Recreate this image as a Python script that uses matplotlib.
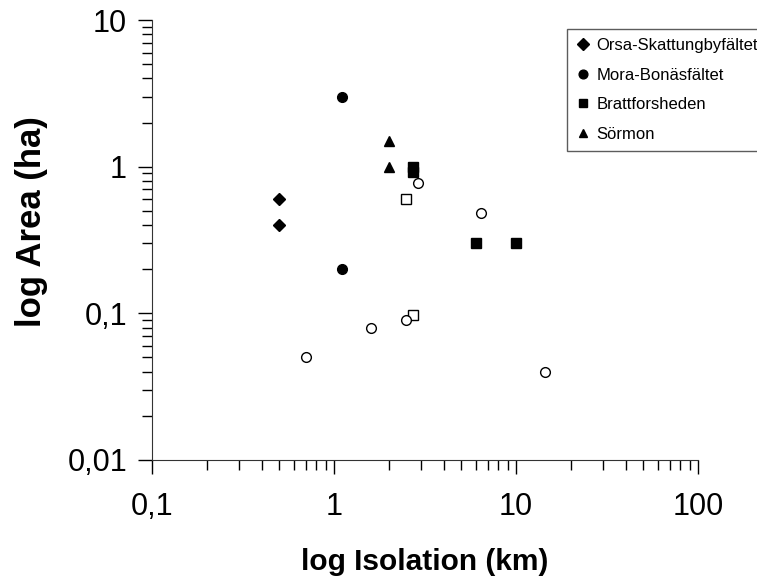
import matplotlib.pyplot as plt
from matplotlib.ticker import FixedLocator, FixedFormatter, LogLocator, NullFormatter

plt.rcParams['font.family'] = ['Liberation Sans', 'DejaVu Sans']

# isolation (km) and area (ha) per site
orsa_x = [0.5, 0.5]
orsa_y = [0.6, 0.4]
mora_x = [1.1, 1.1]
mora_y = [3.0, 0.2]
bratt_x = [2.7, 2.7, 6.0, 10.0]
bratt_y = [1.0, 0.92, 0.3, 0.3]
sormon_x = [2.0, 2.0]
sormon_y = [1.5, 1.0]
open_sq_x = [2.5, 2.7]
open_sq_y = [0.6, 0.097]
open_ci_x = [2.9, 6.4, 2.5, 1.6, 0.7, 14.5]
open_ci_y = [0.77, 0.48, 0.09, 0.08, 0.05, 0.04]

x_ticks = [0.1, 1, 10, 100]
x_labels = ["0,1", "1", "10", "100"]
y_ticks = [0.01, 0.1, 1, 10]
y_labels = ["0,01", "0,1", "1", "10"]

fig = plt.figure(figsize=(7.57, 5.80), dpi=100)
ax = fig.add_axes([0.2008, 0.2069, 0.7213, 0.7586])

ms = 7
ax.plot(orsa_x, orsa_y, "D", color="black", markersize=6.5, linestyle="none", label="Orsa-Skattungbyfältet")
ax.plot(mora_x, mora_y, "o", color="black", markersize=ms, linestyle="none", label="Mora-Bonäsfältet")
ax.plot(bratt_x, bratt_y, "s", color="black", markersize=ms, linestyle="none", label="Brattforsheden")
ax.plot(sormon_x, sormon_y, "^", color="black", markersize=ms, linestyle="none", label="Sörmon")
ax.plot(open_sq_x, open_sq_y, "s", markerfacecolor="white", markeredgecolor="black",
        markersize=ms, linestyle="none")
ax.plot(open_ci_x, open_ci_y, "o", markerfacecolor="white", markeredgecolor="black",
        markersize=ms, linestyle="none")

ax.set_xscale("log")
ax.set_yscale("log")
ax.set_xlim(0.1, 100)
ax.set_ylim(0.01, 10)

ax.xaxis.set_major_locator(FixedLocator(x_ticks))
ax.xaxis.set_major_formatter(FixedFormatter(x_labels))
ax.yaxis.set_major_locator(FixedLocator(y_ticks))
ax.yaxis.set_major_formatter(FixedFormatter(y_labels))
ax.xaxis.set_minor_locator(LogLocator(base=10, subs=range(2, 10)))
ax.yaxis.set_minor_locator(LogLocator(base=10, subs=range(2, 10)))
ax.xaxis.set_minor_formatter(NullFormatter())
ax.yaxis.set_minor_formatter(NullFormatter())

ax.tick_params(which="major", direction="out", length=10, width=1, labelsize=22)
ax.tick_params(axis="x", which="major", pad=13)
ax.tick_params(axis="y", which="major", pad=8)
ax.tick_params(which="minor", direction="out", length=7, width=1)

for s in ["top", "right"]:
    ax.spines[s].set_visible(False)
for s in ["left", "bottom"]:
    ax.spines[s].set_color("#333333")

ax.set_xlabel("log Isolation (km)", fontsize=21.5, fontweight="bold", labelpad=19)
ax.set_ylabel("log Area (ha)", fontsize=25, fontweight="bold")
ax.yaxis.set_label_coords(-0.19, 0.541)

leg = fig.legend(loc="upper left", bbox_to_anchor=(0.749, 0.95), fontsize=12,
                 frameon=True, fancybox=False, handlelength=0.8, handletextpad=0.4,
                 labelspacing=0.87, borderpad=0.55, borderaxespad=0, markerscale=0.9)
leg.get_frame().set_edgecolor("#333333")
leg.get_frame().set_linewidth(1)

fig.savefig("out.png", dpi=100)
